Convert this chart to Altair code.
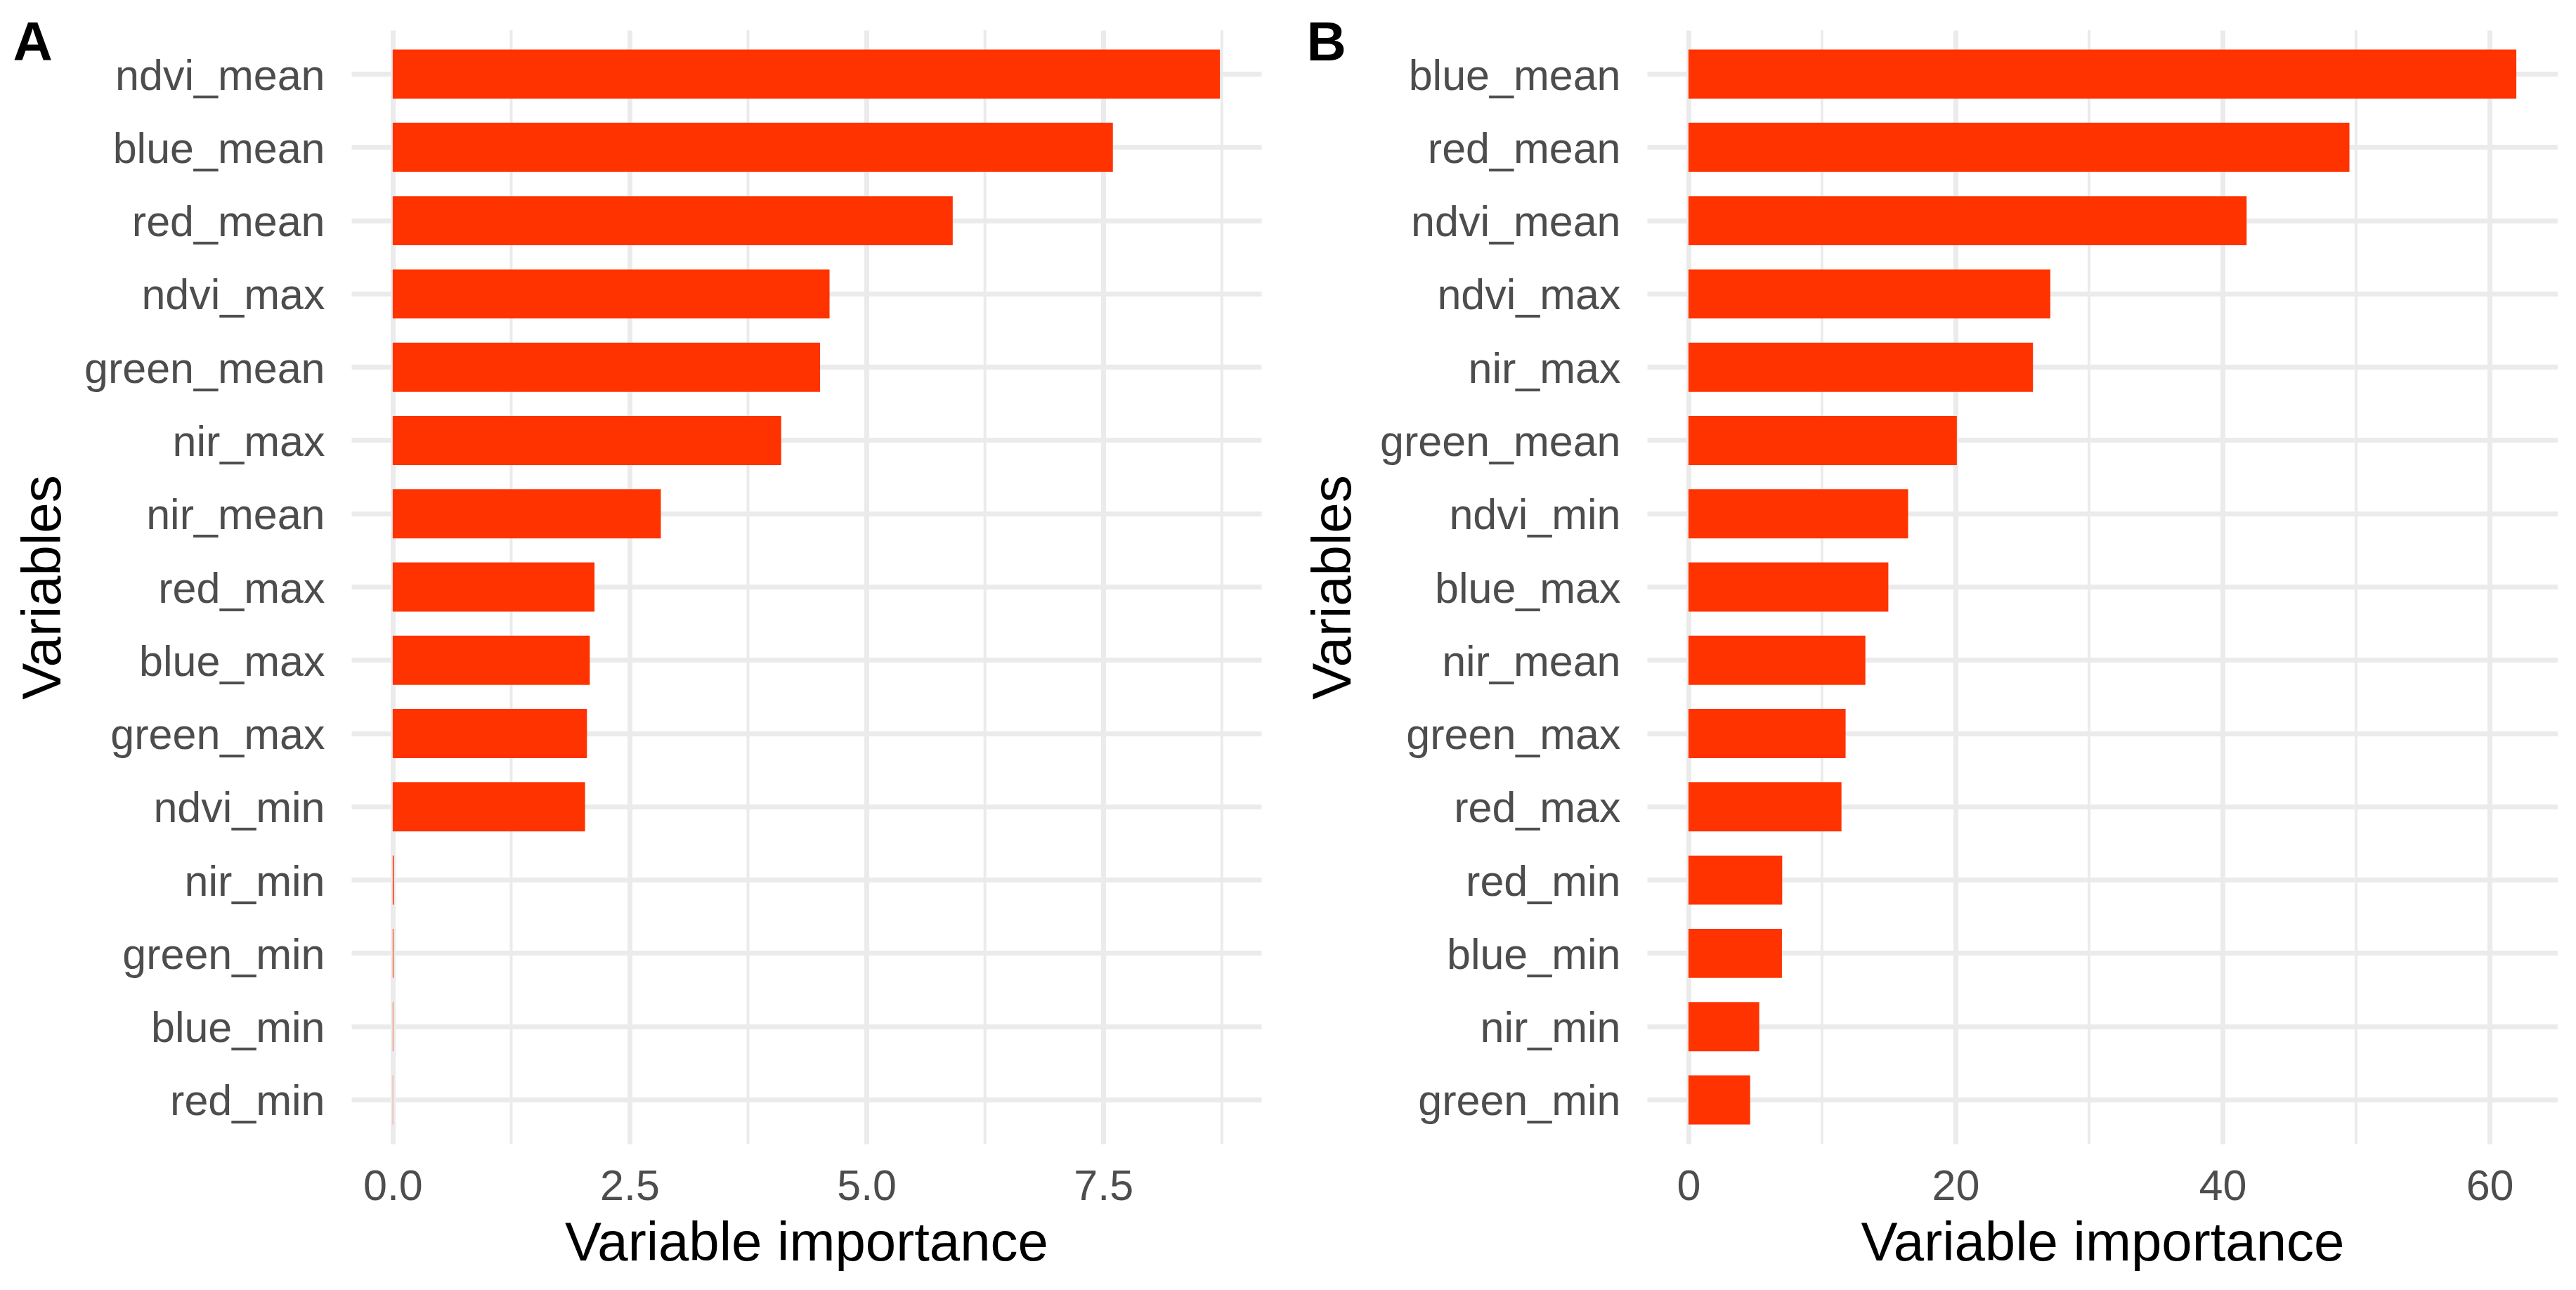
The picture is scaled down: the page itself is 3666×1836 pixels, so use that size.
import altair as alt
import pandas as pd

# ---- data ----
cats_a = ["ndvi_mean", "blue_mean", "red_mean", "ndvi_max", "green_mean", "nir_max",
          "nir_mean", "red_max", "blue_max", "green_max", "ndvi_min", "nir_min",
          "green_min", "blue_min", "red_min"]
vals_a = [8.73, 7.60, 5.91, 4.61, 4.51, 4.10, 2.83, 2.13, 2.08, 2.05, 2.03,
          0.012, 0.008, 0.005, 0.003]

cats_b = ["blue_mean", "red_mean", "ndvi_mean", "ndvi_max", "nir_max", "green_mean",
          "ndvi_min", "blue_max", "nir_mean", "green_max", "red_max", "red_min",
          "blue_min", "nir_min", "green_min"]
vals_b = [62.0, 49.5, 41.8, 27.1, 25.8, 20.1, 16.45, 14.97, 13.25, 11.77, 11.46,
          7.02, 7.0, 5.3, 4.62]

major_a = [0, 2.5, 5, 7.5]
minor_a = [1.25, 3.75, 6.25, 8.75]
major_b = [0, 20, 40, 60]
minor_b = [10, 30, 50]

FONT = "Liberation Sans"
GRID = "#EBEBEB"
BAR = "#FF3300"


def panel(label, cats, vals, major, minor, fmt, width, ytitle_pad, title_dx):
    df = pd.DataFrame({"var": cats, "imp": vals})
    mx = max(vals)
    xscale = alt.Scale(domain=[-0.05 * mx, 1.05 * mx], nice=False, zero=False)
    yscale = alt.Scale(domain=cats, paddingInner=0.329, paddingOuter=0.2644)
    xaxis = alt.Axis(values=major, format=fmt, title="Variable importance",
                     labelFlush=False, labelFontSize=61, labelColor="#4D4D4D",
                     labelPadding=31, ticks=False, tickSize=0, domain=False,
                     grid=True, gridColor=GRID, gridWidth=7,
                     maxExtent=1000,
                     titleFontSize=78, titleFontWeight="normal",
                     titleColor="black", titlePadding=12)

    rules = alt.Chart(pd.DataFrame({"m": minor})).mark_rule(
        color=GRID, strokeWidth=4
    ).encode(x=alt.X("m:Q", scale=xscale, axis=xaxis))

    bars = alt.Chart(df).mark_bar(color=BAR).encode(
        x=alt.X("imp:Q", scale=xscale, axis=xaxis),
        x2=alt.datum(0),
        y=alt.Y("var:N", scale=yscale, sort=cats,
                axis=alt.Axis(title="Variables", labelFontSize=61, labelColor="#4D4D4D",
                              labelPadding=38, labelLimit=2000, ticks=False, tickSize=0,
                              domain=False, grid=True, gridColor=GRID, gridWidth=7,
                              bandPosition=0.5, labelOffset=4, maxExtent=1000,
                              titleFontSize=78, titleFontWeight="normal",
                              titleColor="black", titlePadding=ytitle_pad)),
    )
    return alt.layer(rules, bars).properties(
        width=width, height=1585,
        title=alt.TitleParams(label, anchor="start", frame="bounds", fontSize=78,
                              fontWeight="bold", color="black", font=FONT,
                              offset=-61, dx=title_dx),
    )


pa = panel("A", cats_a, vals_a, major_a, minor_a, ".1f", 1295, 18, -5)
pb = panel("B", cats_b, vals_b, major_b, minor_b, "d", 1296, 26, 0)

chart = alt.hconcat(pa, pb, spacing=64).properties(
    padding={"left": 10, "top": 16, "right": 0, "bottom": 0},
    background="white",
).configure(font=FONT).configure_view(strokeWidth=0)

chart.save("out.html", embed_options={"renderer": "svg", "actions": False})
